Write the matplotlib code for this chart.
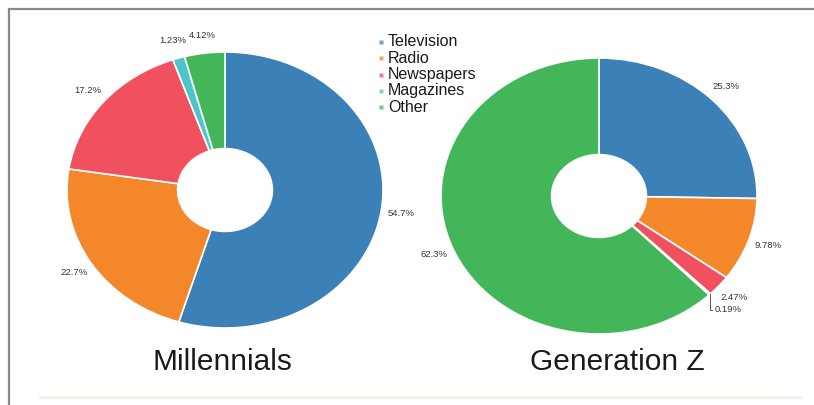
import numpy as np
import matplotlib.pyplot as plt
from matplotlib.lines import Line2D
from matplotlib.patches import Rectangle

categories = ['Television', 'Radio', 'Newspapers', 'Magazines', 'Other']
millennials = [54.7, 22.7, 17.2, 1.23, 4.12]
gen_z = [25.3, 9.78, 2.47, 0.19, 62.3]
millennials_labels = ['54.7%', '22.7%', '17.2%', '1.23%', '4.12%']
gen_z_labels = ['25.3%', '9.78%', '2.47%', '0.19%', '62.3%']
titles = ['Millennials', 'Generation Z']

colors = ['#3b80b6', '#f5872b', '#f1505e', '#4cc5c8', '#44b65a']

plt.rcParams['font.family'] = ['Liberation Sans', 'DejaVu Sans']

fig = plt.figure(figsize=(8.14, 4.05), dpi=100)
fig.patch.set_facecolor('white')

# outer frame
fig.add_artist(Rectangle((9 / 814, -0.1), 1.0, 1 - 9 / 405 + 0.1,
                         transform=fig.transFigure, fill=False,
                         edgecolor='#8a8a8a', linewidth=1.6))
fig.add_artist(Line2D([40 / 814, 800 / 814], [1 - 397 / 405] * 2,
                      transform=fig.transFigure, color='#f1f0e2', linewidth=2))


def draw_donut(rect, values, labels, title, title_x):
    ax = fig.add_axes(rect)
    wedges, _ = ax.pie(values, colors=colors, startangle=90, counterclock=False,
                       wedgeprops=dict(width=0.70, edgecolor='white', linewidth=1.2))
    ax.set_aspect('auto')
    ax.set_xlim(-1, 1)
    ax.set_ylim(-1, 1)
    ax.axis('off')
    for w, lab in zip(wedges, labels):
        mid = np.deg2rad((w.theta1 + w.theta2) / 2)
        ex, ey = np.cos(mid), np.sin(mid)
        if w.theta2 - w.theta1 < 1:
            # tiny slice: label pulled out with a leader line
            ax.annotate(lab, xy=(ex, ey), xytext=(ex + 0.03, ey - 0.11),
                        fontsize=6.8, color='#333333', ha='left', va='center',
                        arrowprops=dict(arrowstyle='-', color='#555555', lw=0.7,
                                        shrinkA=0, shrinkB=0,
                                        connectionstyle='angle,angleA=0,angleB=90,rad=0'))
            continue
        ax.text(1.13 * ex, 1.13 * ey, lab, fontsize=6.8,
                color='#333333', ha='center', va='center')
    fig.text(title_x, 1 - 362 / 405, title, fontsize=21.5, ha='center',
             va='center', color='#1a1a1a')
    return ax


draw_donut([67 / 814, 77 / 405, 316 / 814, 276 / 405], millennials,
           millennials_labels, titles[0], 222 / 814)
draw_donut([441 / 814, 71 / 405, 316 / 814, 276 / 405], gen_z,
           gen_z_labels, titles[1], 617 / 814)

# legend drawn row by row
leg_x, leg_y, leg_step = 381 / 814, 1 - 42 / 405, 16.3 / 405
for i, (cat, c) in enumerate(zip(categories, colors)):
    y = leg_y - i * leg_step
    fig.add_artist(Line2D([leg_x], [y], transform=fig.transFigure, marker='s',
                          markersize=3.5, markerfacecolor=c,
                          markeredgecolor='none', alpha=0.75))
    fig.text(leg_x + 7 / 814, y, cat, fontsize=11.5, ha='left', va='center',
             color='#1a1a1a')

fig.savefig('out.png', dpi=100)
